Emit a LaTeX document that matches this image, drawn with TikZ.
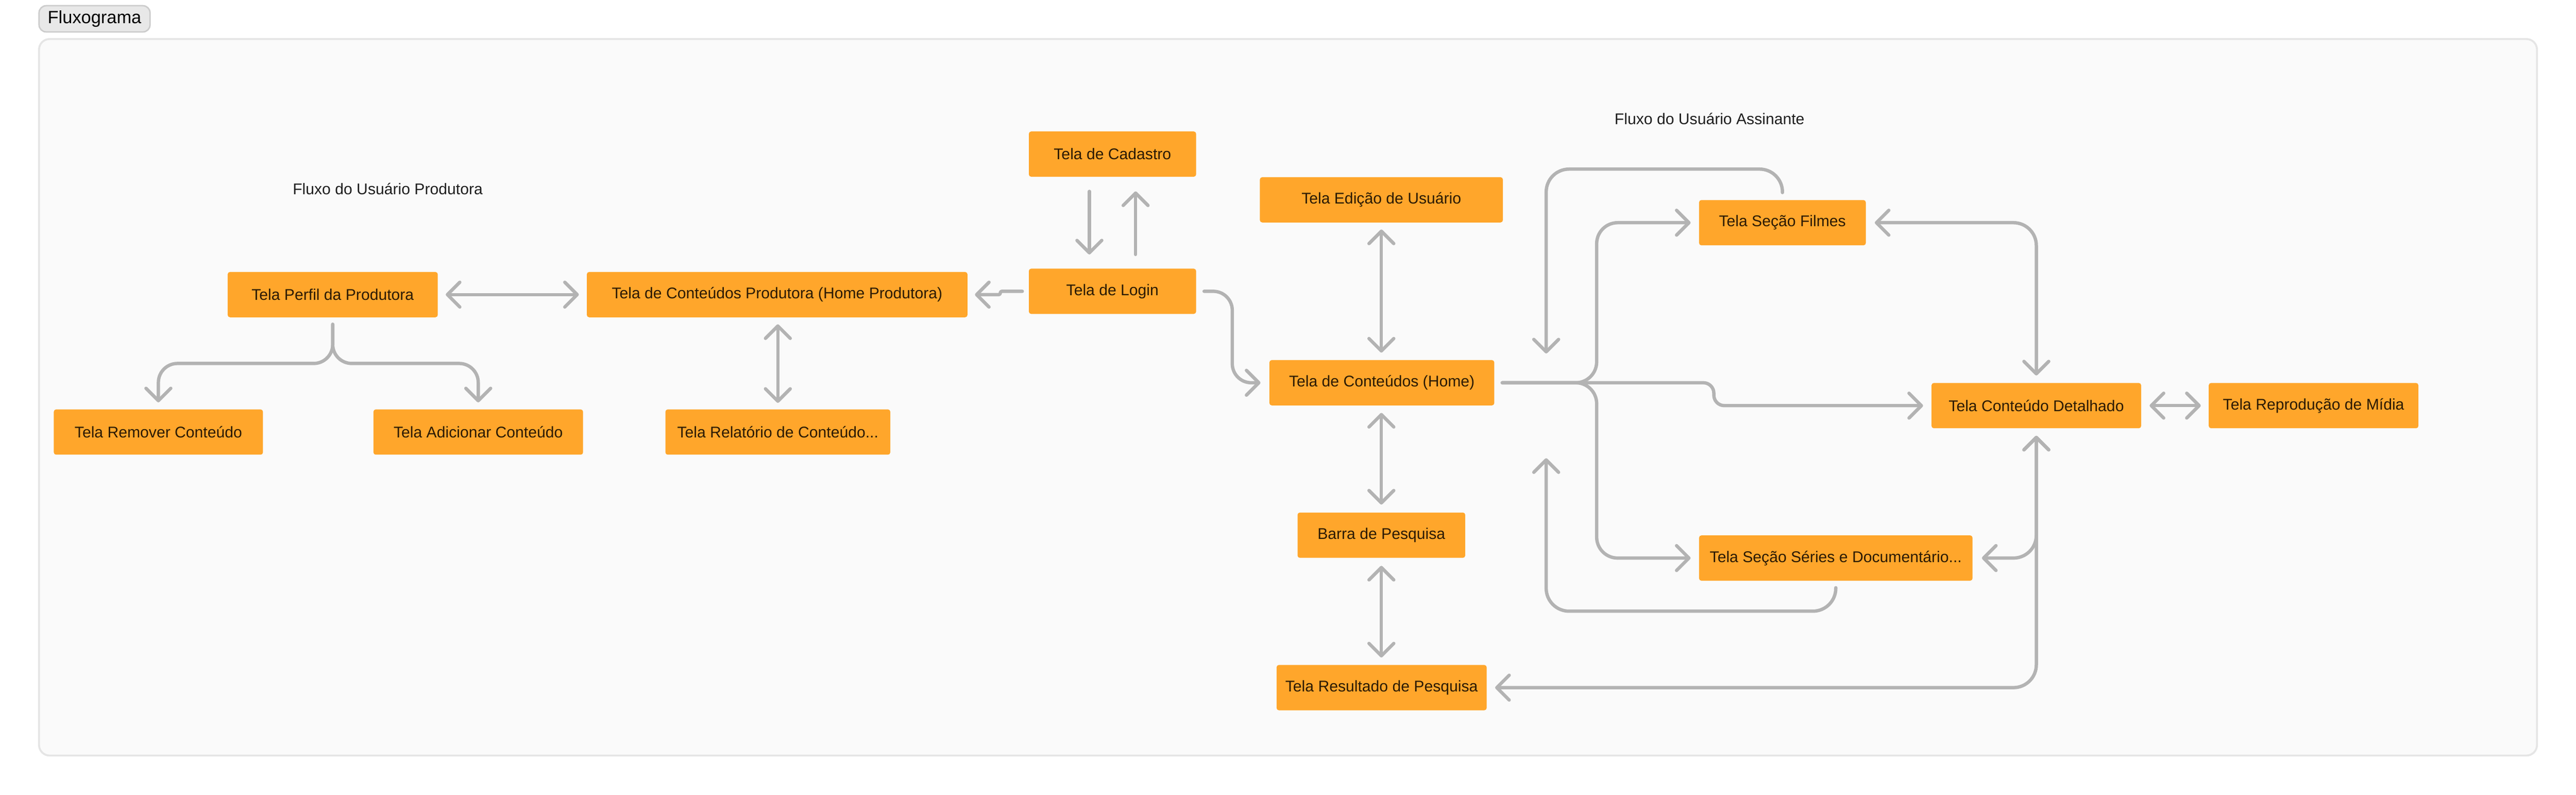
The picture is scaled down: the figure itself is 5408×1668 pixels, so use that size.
\documentclass[tikz,border=0pt]{standalone}
\usepackage{fontspec}
\setmainfont{Liberation Sans}
\usetikzlibrary{arrows.meta}
\definecolor{boxfill}{HTML}{FFA62B}
\definecolor{boxtext}{HTML}{2B1A05}
\definecolor{conncol}{HTML}{B3B3B3}
\definecolor{panelfill}{HTML}{FAFAFA}
\definecolor{panelline}{HTML}{E5E5E5}
\definecolor{btnfill}{HTML}{E8E8E8}
\definecolor{btnline}{HTML}{CCCCCC}
\definecolor{lbltext}{HTML}{1E1E1E}
\begin{document}
\begin{tikzpicture}[x=0.25pt,y=-0.25pt,
  screen/.style={fill=boxfill, rounded corners=1.2pt, minimum height=23.75pt,
    inner sep=0pt, text=boxtext, font=\fontsize{8.15pt}{9pt}\selectfont},
  lbl/.style={text=lbltext, inner sep=0pt, font=\fontsize{8.15pt}{9pt}\selectfont},
  conn/.style={draw=conncol, line width=1.75pt, line cap=round, line join=round,
    rounded corners=11pt, shorten >=4pt, shorten <=4pt},
  onearrow/.style={-{Straight Barb[length=6.5pt,width=13pt,round]}},
  twoarrow/.style={{Straight Barb[length=6.5pt,width=13pt,round]}-{Straight Barb[length=6.5pt,width=13pt,round]}}
]
\useasboundingbox (0,0) rectangle (5408,1668);
\fill[white] (0,0) rectangle (5408,1668);

% panel and title button
\draw[draw=panelline, fill=panelfill, line width=1pt, rounded corners=5.5pt] (82,82) rectangle (5326,1586);
\node[draw=btnline, fill=btnfill, rounded corners=3.75pt, line width=0.75pt,
  minimum width=58.25pt, minimum height=13.75pt, inner sep=0pt, text=black,
  font=\fontsize{9.3pt}{10pt}\selectfont] (btn) at (198.5,39.5) {Fluxograma};

% section labels
\node[lbl] (lprod) at (814,396) {Fluxo do Usuário Produtora};
\node[lbl] (lassin) at (3589,249) {Fluxo do Usuário Assinante};

% nodes
\node[screen, minimum width=110.25pt] (perfil) at (698.5,618.5) {Tela Perfil da Produtora};
\node[screen, minimum width=199.75pt] (hprod) at (1631.5,618.5) {Tela de Conteúdos Produtora (Home Produtora)};
\node[screen, minimum width=109.75pt] (remover) at (332.5,907) {Tela Remover Conteúdo};
\node[screen, minimum width=110pt] (adicionar) at (1004,907) {Tela Adicionar Conteúdo};
\node[screen, minimum width=118pt] (relatorio) at (1633,907) {Tela Relatório de Conteúdo...};
\node[screen, minimum width=87.75pt] (cadastro) at (2335.5,323.5) {Tela de Cadastro};
\node[screen, minimum width=87.75pt] (login) at (2335.5,611.5) {Tela de Login};
\node[screen, minimum width=127.5pt] (edicao) at (2900,419.5) {Tela Edição de Usuário};
\node[screen, minimum width=118pt] (home) at (2901,803.5) {Tela de Conteúdos (Home)};
\node[screen, minimum width=88pt] (barra) at (2900,1123.5) {Barra de Pesquisa};
\node[screen, minimum width=110.25pt] (resultado) at (2900.5,1443.5) {Tela Resultado de Pesquisa};
\node[screen, minimum width=87.5pt] (filmes) at (3742,467.5) {Tela Seção Filmes};
\node[screen, minimum width=110pt] (detalhado) at (4275,851.5) {Tela Conteúdo Detalhado};
\node[screen, minimum width=110pt] (reproducao) at (4857,851.5) {Tela Reprodução de Mídia};
\node[screen, minimum width=143.5pt] (series) at (3854,1171.5) {Tela Seção Séries e Documentário...};

% helper coordinates
\coordinate (pbranch) at (698.5,763);
\coordinate (lhx) at (2587,0);
\coordinate (jx) at (3352,0);
\coordinate (stepx) at (3598,0);
\coordinate (loopx) at (3246,0);
\coordinate (loopA) at (3246,742);
\coordinate (loopB) at (3246,962);
\coordinate (topy) at (0,355);
\coordinate (boty) at (0,1283);

% producer flow
\draw[conn, twoarrow] (perfil.east) -- (hprod.west);
\draw[conn, onearrow, rounded corners=10pt, shorten <=3.5pt, shorten >=3.5pt] (perfil.south) -- (pbranch) -| (remover.north);
\draw[conn, onearrow, rounded corners=10pt, shorten <=3.5pt, shorten >=3.5pt] (perfil.south) -- (pbranch) -| (adicionar.north);
\draw[conn, twoarrow, shorten <=3.5pt, shorten >=3.25pt] (hprod.south -| relatorio.north) -- (relatorio.north);

% login / cadastro
\draw[conn, onearrow, shorten <=7.5pt, shorten >=7.25pt] ([xshift=-12.125pt]cadastro.south) -- ([xshift=-12.125pt]login.north);
\draw[conn, onearrow, shorten <=7.25pt, shorten >=7.5pt] ([xshift=12.125pt]login.north) -- ([xshift=12.125pt]cadastro.south);
\draw[conn, onearrow, rounded corners=0.8pt, shorten <=3.25pt, shorten >=3.75pt] (login.west) -- (2100,611.5) -- (2100,618.5) -- (hprod.east);
\draw[conn, onearrow, rounded corners=10pt, shorten >=4.5pt] (login.east) -| (lhx |- home.west) -- (home.west);

% subscriber flow
\draw[conn, twoarrow, shorten <=3.5pt, shorten >=3.75pt] (edicao.south) -- (edicao.south |- home.north);
\draw[conn, twoarrow, shorten <=3.75pt, shorten >=4pt] (home.south -| barra.north) -- (barra.north);
\draw[conn, twoarrow, shorten <=4pt, shorten >=3.75pt] (barra.south) -- (resultado.north -| barra.south);

\draw[conn, onearrow, shorten >=4.25pt] (home.east) -| (jx |- filmes.west) -- (filmes.west);
\draw[conn, onearrow, shorten >=4.25pt] (home.east) -| (jx |- series.west) -- (series.west);
\draw[conn, onearrow, rounded corners=5.5pt, shorten >=4.25pt] (home.east) -| (stepx |- detalhado.west) -- (detalhado.west);

\draw[conn, onearrow, rounded corners=12pt, shorten <=3.75pt, shorten >=0pt] (filmes.north) |- (loopx |- topy) -- (loopA);
\draw[conn, onearrow, rounded corners=12pt, shorten <=3.5pt, shorten >=0pt] (series.south) |- (loopx |- boty) -- (loopB);

\draw[conn, twoarrow, rounded corners=12pt, shorten <=4.5pt, shorten >=3.75pt] (filmes.east) -| (detalhado.north);
\draw[conn, twoarrow, rounded corners=12pt, shorten <=4.75pt, shorten >=3.75pt] (series.east) -| (detalhado.south);
\draw[conn, twoarrow, rounded corners=12pt, shorten <=4.25pt, shorten >=3.75pt] (resultado.east) -| (detalhado.south);
\draw[conn, twoarrow, shorten <=4.25pt, shorten >=4pt] (detalhado.east) -- (reproducao.west);
\end{tikzpicture}
\end{document}
